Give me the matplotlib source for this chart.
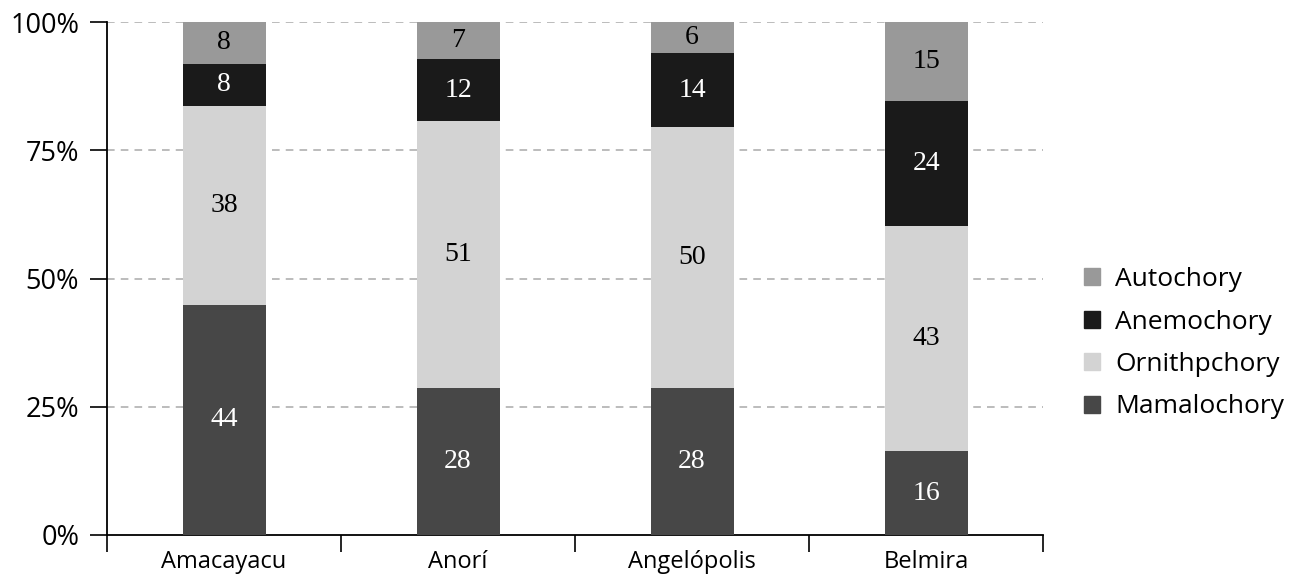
import matplotlib
matplotlib.use("Agg")
import matplotlib.pyplot as plt
import numpy as np
from matplotlib.patches import Patch

categories = ["Amacayacu", "Anorí", "Angelópolis", "Belmira"]
series_names = ["Mamalochory", "Ornithpchory", "Anemochory", "Autochory"]
mamalochory = [44, 28, 28, 16]
ornithochory = [38, 51, 50, 43]
anemochory = [8, 12, 14, 24]
autochory = [8, 7, 6, 15]
y_ticklabels = ["0%", "25%", "50%", "75%", "100%"]

series = [mamalochory, ornithochory, anemochory, autochory]
colors = ["#474747", "#d3d3d3", "#1a1a1a", "#999999"]
text_colors = ["white", "black", "white", "black"]

plt.rcParams['font.family'] = ['Open Sans', 'DejaVu Sans']

fig = plt.figure(figsize=(12.93, 5.77), dpi=100)
ax = fig.add_axes([0.0828, 0.0728, 0.7239, 0.889])

data = np.array(series, dtype=float)
totals = data.sum(axis=0)
pct = data / totals * 100
x = np.arange(len(categories))
bottom = np.zeros(len(categories))
for i, (vals, c, tc) in enumerate(zip(series, colors, text_colors)):
    h = pct[i]
    ax.bar(x, h, bottom=bottom, width=0.355, color=c, zorder=3)
    for xi, b, hh, v in zip(x, bottom, h, vals):
        ax.text(xi, b + hh / 2, str(v), ha="center", va="center", color=tc,
                fontsize=20, family="Liberation Serif", zorder=4)
    bottom += h

ax.set_xlim(-0.5, 3.5)
ax.set_ylim(0, 100)
ax.set_yticks([0, 25, 50, 75, 100])
ax.set_yticklabels(y_ticklabels, fontsize=19.5)
for yv in [25, 50, 75, 100]:
    ax.axhline(yv, color="#aaaaaa", linestyle=(0, (5, 4)), linewidth=1.1, zorder=1)

ax.set_xticks(x)
ax.set_xticklabels(categories, fontsize=17)
ax.set_xticks(np.arange(-0.5, 4, 1), minor=True)
ax.tick_params(axis="x", which="major", length=0, pad=11)
ax.tick_params(axis="x", which="minor", length=12, width=1.2, direction="out")
ax.tick_params(axis="y", length=12, width=1.2, direction="out", pad=8)
for s in ["top", "right"]:
    ax.spines[s].set_visible(False)
ax.spines["left"].set_linewidth(1.3)
ax.spines["bottom"].set_linewidth(1.3)

handles = [Patch(color=colors[i], label=series_names[i]) for i in [3, 2, 1, 0]]
fig.legend(handles=handles, loc="center left", bbox_to_anchor=(0.82, 0.405),
           frameon=False, fontsize=19, handlelength=0.62, handleheight=0.62,
           handletextpad=0.55, labelspacing=0.66)

fig.savefig("out.png", dpi=100)
